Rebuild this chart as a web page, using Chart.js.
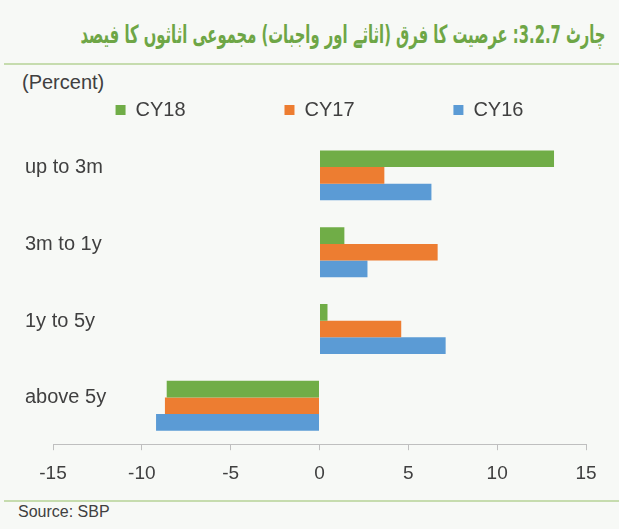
<!DOCTYPE html>
<html>
<head>
<meta charset="utf-8">
<script src="https://cdn.jsdelivr.net/npm/chart.js@4.4.0/dist/chart.umd.min.js"></script>
<style>
  html, body { margin: 0; padding: 0; }
  body { width: 619px; height: 529px; background: #f7f9f6; position: relative; overflow: hidden; font-family: "Liberation Sans", Arial, sans-serif; color: #404040; }
  #title { position: absolute; right: 14px; top: 20px; direction: rtl; font-family: "DejaVu Sans Condensed", "DejaVu Sans", sans-serif; font-weight: bold; font-size: 25px; color: #6ea646; white-space: nowrap; transform-origin: right center; }
  .rule { position: absolute; left: 4px; right: 0; height: 2px; background: #c6dcae; }
  #unit { position: absolute; left: 22px; top: 71px; font-size: 20px; }
  #source { position: absolute; left: 18px; top: 503px; font-size: 16px; }
  #wrap { position: absolute; left: 0; top: 0; width: 619px; height: 529px; }
</style>
</head>
<body>
<div id="title">چارٹ 3.2.7: عرصیت کا فرق (اثاثے اور واجبات) مجموعی اثاثوں کا فیصد</div>
<div class="rule" style="top:63px"></div>
<div id="unit">(Percent)</div>
<div class="rule" style="top:500px"></div>
<div id="source">Source: SBP</div>
<div id="wrap"><canvas id="my-chart" width="619" height="529"></canvas></div>
<script>
//Chart data
var categories = ['up to 3m', '3m to 1y', '1y to 5y', 'above 5y'];
var seriesNames = ['CY18', 'CY17', 'CY16'];
var cy18 = [13.2, 1.4, 0.45, -8.6];
var cy17 = [3.65, 6.65, 4.6, -8.7];
var cy16 = [6.3, 2.7, 7.1, -9.2];
var xTicks = [-15, -10, -5, 0, 5, 10, 15];

//squeeze the title so it fits the same width as the original
var titleEl = document.getElementById('title');
var titleW = titleEl.getBoundingClientRect().width;
titleEl.style.transform = 'scaleX(' + (525 / titleW) + ')';

var ctx = document.getElementById('my-chart').getContext('2d');

//make the legend a bit taller so the plot starts lower
var legendSpace = {
  id: 'legendSpace',
  beforeInit: function (chart) {
    var oldFit = chart.legend.fit;
    chart.legend.fit = function () {
      oldFit.call(chart.legend);
      this.height += 7;
    };
  }
};

var myChart = new Chart(ctx, {
  type: 'bar',
  data: {
    labels: categories,
    datasets: [
      { label: seriesNames[0], data: cy18, backgroundColor: '#70ad47' },
      { label: seriesNames[1], data: cy17, backgroundColor: '#ed7d31' },
      { label: seriesNames[2], data: cy16, backgroundColor: '#5b9bd5' }
    ]
  },
  options: {
    indexAxis: 'y',
    responsive: false,
    animation: false,
    categoryPercentage: 0.65,
    barPercentage: 1.0,
    layout: { padding: { left: 25, right: 33, top: 90, bottom: 32 } },
    plugins: {
      legend: {
        position: 'top',
        fullSize: false,
        labels: {
          boxWidth: 10,
          boxHeight: 10,
          padding: 10,
          color: '#404040',
          font: { family: 'Liberation Sans', size: 20 },
          // trailing spaces spread the items out like the original
          generateLabels: function (chart) {
            var items = Chart.defaults.plugins.legend.labels.generateLabels(chart);
            items.forEach(function (item, i) {
              if (i < items.length - 1) item.text = item.text + '                ';
            });
            return items;
          }
        }
      },
      tooltip: { enabled: false }
    },
    scales: {
      x: {
        min: -15,
        max: 15,
        afterBuildTicks: function (axis) {
          axis.ticks = xTicks.map(function (v) { return { value: v }; });
        },
        grid: { drawOnChartArea: false, drawTicks: true, tickLength: 6, color: '#bfbfbf' },
        border: { display: true, color: '#bfbfbf', width: 1 },
        ticks: { padding: 12, color: '#404040', font: { family: 'Liberation Sans', size: 19 } }
      },
      y: {
        afterFit: function (axis) { axis.width = 28; },
        grid: { display: false, drawTicks: false },
        border: { display: false },
        ticks: {
          mirror: true,
          padding: -28,
          labelOffset: -8,
          color: '#404040',
          font: { family: 'Liberation Sans', size: 20 }
        }
      }
    }
  },
  plugins: [legendSpace]
});
</script>
</body>
</html>
